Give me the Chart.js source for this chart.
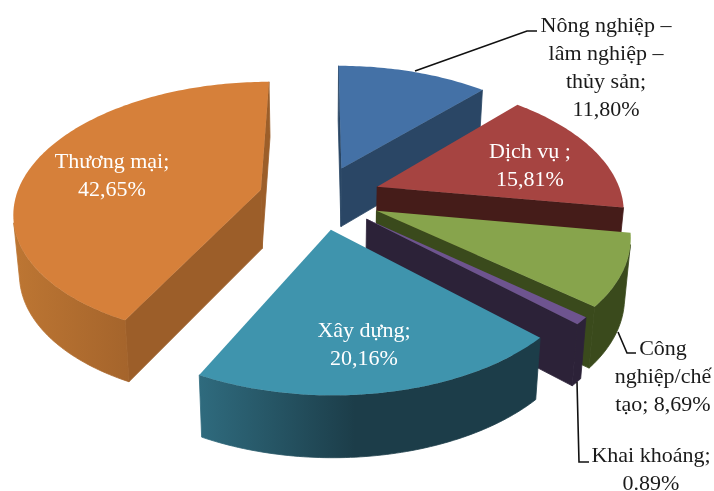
<!DOCTYPE html>
<html>
<head>
<meta charset="utf-8">
<title>Cơ cấu</title>
<script src="https://cdn.jsdelivr.net/npm/chart.js@4/dist/chart.umd.js"></script>
<style>
  html, body { margin: 0; padding: 0; background: #fff; }
  canvas { display: block; }
</style>
</head>
<body>
<canvas id="chart" width="714" height="491"></canvas>
<script>
'use strict';

// Data, clockwise from 12 o'clock
const categories = ['Nông nghiệp – lâm nghiệp – thủy sản', 'Dịch vụ', 'Công nghiệp/chế tạo', 'Khai khoáng', 'Xây dựng', 'Thương mại'];
const shares = [11.80, 15.81, 8.69, 0.89, 20.16, 42.65];

const topColors = ['#4471a6', '#a64441', '#87a44c', '#6e548f', '#3f94ad', '#d6803a'];
const cutColors = ['#2a4665', '#451c19', '#3a4a1c', '#2c2238', '#1c3d49', '#9c5e29'];
// rim shading goes left to right
const rimLeft = ['#2a4665', '#451c19', '#3a4a1c', '#2c2238', '#2f6b7e', '#bd7633'];
const rimRight = ['#2a4665', '#451c19', '#3a4a1c', '#2c2238', '#1c3d49', '#9c5e29'];

// Text blocks: lines, centre x, first baseline, colour
const labelLines = [
    ['Nông nghiệp –', 'lâm nghiệp –', 'thủy sản;', '11,80%'],
    ['Dịch vụ ;', '15,81%'],
    ['Công', 'nghiệp/chế', 'tạo; 8,69%'],
    ['Khai khoáng;', '0.89%'],
    ['Xây dựng;', '20,16%'],
    ['Thương mại;', '42,65%']
];
const labelX = [606, 530, 663, 651, 364, 112];
const labelY = [32, 158, 355, 462, 337, 168];
const labelColors = ['#1a1a1a', '#ffffff', '#1a1a1a', '#1a1a1a', '#ffffff', '#ffffff'];
const leaderLines = [
    [[415, 71], [527, 31], [537, 31]],
    [[618, 332], [627, 353], [636, 353]],
    [[577, 382], [579, 462], [589, 462]]
];

const RADIUS = 245;
const EXPLODE = 0.25;     // same explosion for all slices
const TILT = 0.52;        // vertical squash of the pie plane
const PERSPECTIVE = 0.16; // near edge gets bigger
const DEPTH = 59;
const STEP = Math.PI / 180;

// pie plane -> screen
function project(center, x, y, lower) {
    const u = (x - center.x) / RADIUS;
    const v = (y - center.y) / RADIUS;
    const w = 1 - PERSPECTIVE * v;
    let sx = center.x + u * RADIUS / w;
    let sy = center.y + v * TILT * RADIUS / w;
    if (lower) {
        sx = center.x + (sx - center.x) * 0.98;
        sy = center.y + (sy - center.y) * 0.98 + DEPTH * (1 + 0.1 * v);
    }
    return { x: sx, y: sy };
}

function tracePath(ctx, points) {
    ctx.beginPath();
    points.forEach((p, i) => (i ? ctx.lineTo(p.x, p.y) : ctx.moveTo(p.x, p.y)));
    ctx.closePath();
}

function signedArea(points) {
    let sum = 0;
    points.forEach((p, i) => {
        const q = points[(i + 1) % points.length];
        sum += p.x * q.y - q.x * p.y;
    });
    return sum;
}

// wall under a run of edge points, only the parts facing the viewer
function fillWall(ctx, center, edge, style) {
    let run = [];
    const flush = () => {
        if (run.length > 1) {
            const upper = run.map(p => project(center, p.x, p.y));
            const lower = run.map(p => project(center, p.x, p.y, true)).reverse();
            tracePath(ctx, [...upper, ...lower]);
            ctx.fillStyle = style;
            ctx.strokeStyle = style;
            ctx.lineWidth = 0.8; // hides the seam between neighbouring walls
            ctx.fill();
            ctx.stroke();
        }
        run = [];
    };
    for (let k = 0; k < edge.length - 1; k++) {
        const a = edge[k];
        const b = edge[k + 1];
        const quad = [
            project(center, a.x, a.y),
            project(center, b.x, b.y),
            project(center, b.x, b.y, true),
            project(center, a.x, a.y, true)
        ];
        if (signedArea(quad) < 0) {
            if (!run.length) run.push(a);
            run.push(b);
        } else {
            flush();
        }
    }
    flush();
}

const solidPie = {
    id: 'solidPie',
    beforeDatasetDraw(chart, args) {
        const ctx = chart.ctx;
        const center = { x: (chart.chartArea.left + chart.chartArea.right) / 2, y: (chart.chartArea.top + chart.chartArea.bottom) / 2 };
        args.meta.data.forEach((arc, i) => {
            const { x, y, startAngle, endAngle, outerRadius } = arc.getProps(['x', 'y', 'startAngle', 'endAngle', 'outerRadius'], true);
            const mid = (startAngle + endAngle) / 2;
            const offset = arc.options.offset;
            const apex = { x: x + Math.cos(mid) * offset, y: y + Math.sin(mid) * offset };

            const rim = [];
            const count = Math.max(2, Math.ceil((endAngle - startAngle) / STEP));
            for (let k = 0; k <= count; k++) {
                const angle = startAngle + (endAngle - startAngle) * k / count;
                rim.push({ x: apex.x + Math.cos(angle) * outerRadius, y: apex.y + Math.sin(angle) * outerRadius });
            }

            // cut faces
            fillWall(ctx, center, [apex, rim[0]], cutColors[i]);
            fillWall(ctx, center, [rim[rim.length - 1], apex], cutColors[i]);

            // outer wall
            const screenTop = rim.map(p => project(center, p.x, p.y));
            const minX = Math.min(...screenTop.map(p => p.x));
            const gradient = ctx.createLinearGradient(minX, 0, minX + 260, 0);
            gradient.addColorStop(0, rimLeft[i]);
            gradient.addColorStop(0.6, rimRight[i]);
            gradient.addColorStop(1, rimRight[i]);
            fillWall(ctx, center, rim, gradient);

            // top face
            tracePath(ctx, [project(center, apex.x, apex.y), ...screenTop]);
            ctx.fillStyle = topColors[i];
            ctx.fill();
        });
        return false;
    },
    afterDatasetsDraw(chart) {
        const ctx = chart.ctx;
        ctx.save();
        ctx.strokeStyle = '#111111';
        ctx.lineWidth = 1.6;
        leaderLines.forEach(line => {
            ctx.beginPath();
            line.forEach((p, i) => (i ? ctx.lineTo(p[0], p[1]) : ctx.moveTo(p[0], p[1])));
            ctx.stroke();
        });
        ctx.font = '22px "Liberation Serif"';
        ctx.textAlign = 'center';
        ctx.textBaseline = 'alphabetic';
        labelLines.forEach((lines, i) => {
            ctx.fillStyle = labelColors[i];
            lines.forEach((text, n) => ctx.fillText(text, labelX[i], labelY[i] + n * 28));
        });
        ctx.restore();
    }
};

new Chart(document.getElementById('chart'), {
    type: 'pie',
    data: {
        labels: categories,
        datasets: [{
            data: shares,
            backgroundColor: topColors,
            borderWidth: 0,
            offset: RADIUS * EXPLODE
        }]
    },
    options: {
        responsive: false,
        animation: false,
        radius: RADIUS,
        layout: { padding: { right: 74, bottom: 97 } },
        plugins: { legend: { display: false }, tooltip: { enabled: false } }
    },
    plugins: [solidPie]
});
</script>
</body>
</html>
